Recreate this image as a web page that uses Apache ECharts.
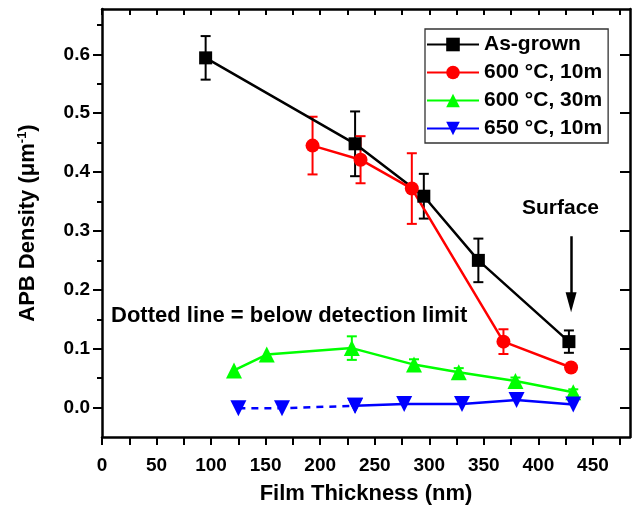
<!DOCTYPE html>
<html>
<head>
<meta charset="utf-8">
<script src="https://cdn.jsdelivr.net/npm/echarts@6/dist/echarts.min.js"></script>
<style>
  html, body { margin: 0; padding: 0; background: #fff; }
  #chart { width: 636px; height: 506px; }
</style>
</head>
<body>
<div id="chart"></div>
<script>
// data
const asGrownX = [95, 232, 295, 345, 428];
const asGrownY = [0.594, 0.448, 0.359, 0.250, 0.112];
const asGrownErr = [0.037, 0.055, 0.038, 0.037, 0.019];

const a600m10X = [193, 237, 284, 368, 430];
const a600m10Y = [0.445, 0.421, 0.372, 0.112, 0.068];
const a600m10Err = [0.049, 0.040, 0.060, 0.021, 0];

const a600m30X = [121, 151, 229, 286, 327, 379, 432];
const a600m30Y = [0.063, 0.090, 0.101, 0.073, 0.060, 0.045, 0.026];
const a600m30Err = [0, 0, 0.020, 0.009, 0.007, 0.006, 0.005];

const a650m10X = [125, 165, 232, 277, 330, 380, 432];
const a650m10Y = [-0.001, -0.001, 0.003, 0.006, 0.006, 0.013, 0.005];
const dashedCount = 3; // first points joined by a dotted line (below detection limit)

const seriesNames = ["As-grown", "600 °C, 10m", "600 °C, 30m", "650 °C, 10m"];
const xTickLabels = [0, 50, 100, 150, 200, 250, 300, 350, 400, 450];
const xTicksAll = [0, 25, 50, 75, 100, 125, 150, 175, 200, 225, 250, 275, 300, 325, 350, 375, 400, 425, 450, 475];
const yTickLabels = [0, 0.1, 0.2, 0.3, 0.4, 0.5, 0.6];
const yMinorTicks = [0.05, 0.15, 0.25, 0.35, 0.45, 0.55, 0.65];

const FONT = 'Arial, "Liberation Sans", sans-serif';
const X_MIN = 0, X_MAX = 484, Y_MIN = -0.05, Y_MAX = 0.677;

function pairs(xs, ys) {
  return xs.map((x, i) => [x, ys[i]]);
}

function errData(xs, ys, errs) {
  return xs.map((x, i) => [x, ys[i] - errs[i], ys[i] + errs[i], errs[i]]);
}

function errorBars(xs, ys, errs, color) {
  return {
    type: "custom",
    silent: true,
    data: errData(xs, ys, errs),
    encode: { x: 0, y: [1, 2] },
    renderItem(params, api) {
      if (api.value(3) <= 0) return null;
      const x = api.value(0);
      const lo = api.coord([x, api.value(1)]);
      const hi = api.coord([x, api.value(2)]);
      const cap = 5;
      const style = { stroke: color, lineWidth: 2 };
      return {
        type: "group",
        children: [
          { type: "line", shape: { x1: lo[0], y1: lo[1], x2: hi[0], y2: hi[1] }, style },
          { type: "line", shape: { x1: lo[0] - cap, y1: lo[1], x2: lo[0] + cap, y2: lo[1] }, style },
          { type: "line", shape: { x1: hi[0] - cap, y1: hi[1], x2: hi[0] + cap, y2: hi[1] }, style },
        ],
      };
    },
  };
}

function lineSeries(name, data, color, symbol, size, extra) {
  return Object.assign({
    name: name,
    type: "line",
    data: data,
    symbol: symbol,
    symbolSize: size,
    showAllSymbol: true,
    itemStyle: { color: color },
    lineStyle: { color: color, width: 2.5 },
    emphasis: { disabled: true },
  }, extra || {});
}

const axisLine = { show: true, onZero: false, lineStyle: { color: "#000", width: 2.5 } };

const chart = echarts.init(document.getElementById("chart"));
chart.setOption({
  animation: false,
  backgroundColor: "#fff",
  grid: { left: 102, right: 6, top: 9, bottom: 69, containLabel: false, outerBoundsMode: "none" },
  legend: {
    data: seriesNames,
    orient: "vertical",
    left: 425,
    top: 29,
    padding: [5, 6, 4, 1],
    itemWidth: 52,
    itemHeight: 17,
    itemGap: 7,
    borderColor: "#333",
    borderWidth: 1.3,
    textStyle: { color: "#000", fontSize: 21, fontWeight: "bold", fontFamily: FONT, lineHeight: 21 },
    selectedMode: false,
  },
  xAxis: [
    {
      type: "value", position: "bottom", min: X_MIN, max: X_MAX,
      name: "Film Thickness (nm)", nameLocation: "middle", nameGap: 46,
      nameTextStyle: { color: "#000", fontSize: 22, fontWeight: "bold", fontFamily: FONT },
      axisLine: axisLine,
      axisTick: { show: true, inside: false, length: 8, customValues: xTicksAll, lineStyle: { color: "#000", width: 2 } },
      axisLabel: { show: true, customValues: xTickLabels, margin: 19, color: "#000", fontSize: 19, fontWeight: "bold", fontFamily: FONT },
      splitLine: { show: false },
    },
    {
      type: "value", position: "top", min: X_MIN, max: X_MAX,
      axisLine: axisLine,
      axisTick: { show: true, inside: true, length: 6, customValues: xTicksAll, lineStyle: { color: "#000", width: 2 } },
      axisLabel: { show: false },
      splitLine: { show: false },
    },
  ],
  yAxis: [
    {
      type: "value", position: "left", min: Y_MIN, max: Y_MAX,
      name: "APB Density (μm{sup|-1})", nameLocation: "middle", nameGap: 63, nameRotate: 90,
      nameTextStyle: {
        color: "#000", fontSize: 22, fontWeight: "bold", fontFamily: FONT,
        rich: { sup: { fontSize: 13, fontWeight: "bold", fontFamily: FONT, color: "#000", verticalAlign: "top", padding: [0, 0, 10, 0] } },
      },
      axisLine: axisLine,
      axisTick: { show: true, inside: false, length: 9, customValues: yTickLabels, lineStyle: { color: "#000", width: 2 } },
      axisLabel: {
        show: true, customValues: yTickLabels, margin: 12, color: "#000", fontSize: 19, fontWeight: "bold", fontFamily: FONT,
        formatter: (v) => v.toFixed(1),
      },
      splitLine: { show: false },
    },
    {
      type: "value", position: "left", offset: 0, min: Y_MIN, max: Y_MAX,
      axisLine: { show: false },
      axisTick: { show: true, inside: false, length: 5, customValues: yMinorTicks, lineStyle: { color: "#000", width: 2 } },
      axisLabel: { show: false },
      splitLine: { show: false },
    },
    {
      type: "value", position: "right", offset: 0, min: Y_MIN, max: Y_MAX,
      axisLine: axisLine,
      axisTick: { show: true, inside: true, length: 10, customValues: yTickLabels, lineStyle: { color: "#000", width: 2 } },
      axisLabel: { show: false },
      splitLine: { show: false },
    },
    {
      type: "value", position: "right", offset: 0, min: Y_MIN, max: Y_MAX,
      axisLine: { show: false },
      axisTick: { show: true, inside: true, length: 5, customValues: yMinorTicks, lineStyle: { color: "#000", width: 2 } },
      axisLabel: { show: false },
      splitLine: { show: false },
    },
  ],
  graphic: [
    {
      type: "text", left: 522, top: 198,
      style: { text: "Surface", fill: "#000", font: "bold 21px " + FONT },
    },
    {
      type: "text", left: 111, top: 305,
      style: { text: "Dotted line = below detection limit", fill: "#000", font: "bold 22px " + FONT },
    },
  ],
  series: [
    errorBars(a600m30X, a600m30Y, a600m30Err, "#00ff00"),
    lineSeries(seriesNames[2], pairs(a600m30X, a600m30Y), "#00ff00", "triangle", 16),
    lineSeries(seriesNames[3], pairs(a650m10X, a650m10Y).slice(dashedCount - 1), "#0000ff", "triangle", 16, { symbolRotate: 180 }),
    lineSeries("650 dotted", pairs(a650m10X, a650m10Y).slice(0, dashedCount), "#0000ff", "triangle", 16, {
      symbolRotate: 180,
      lineStyle: { color: "#0000ff", width: 2.5, type: [7, 6] },
    }),
    errorBars(asGrownX, asGrownY, asGrownErr, "#000000"),
    lineSeries(seriesNames[0], pairs(asGrownX, asGrownY), "#000000", "rect", 13, {
      markLine: {
        silent: true,
        symbol: ["none", "triangle"],
        symbolSize: [11, 20],
        label: { show: false },
        lineStyle: { color: "#000", width: 2.5, type: "solid" },
        data: [[{ coord: [430, 0.291] }, { coord: [430, 0.179] }]],
      },
    }),
    errorBars(a600m10X, a600m10Y, a600m10Err, "#ff0000"),
    lineSeries(seriesNames[1], pairs(a600m10X, a600m10Y), "#ff0000", "circle", 14),
  ],
});
</script>
</body>
</html>
